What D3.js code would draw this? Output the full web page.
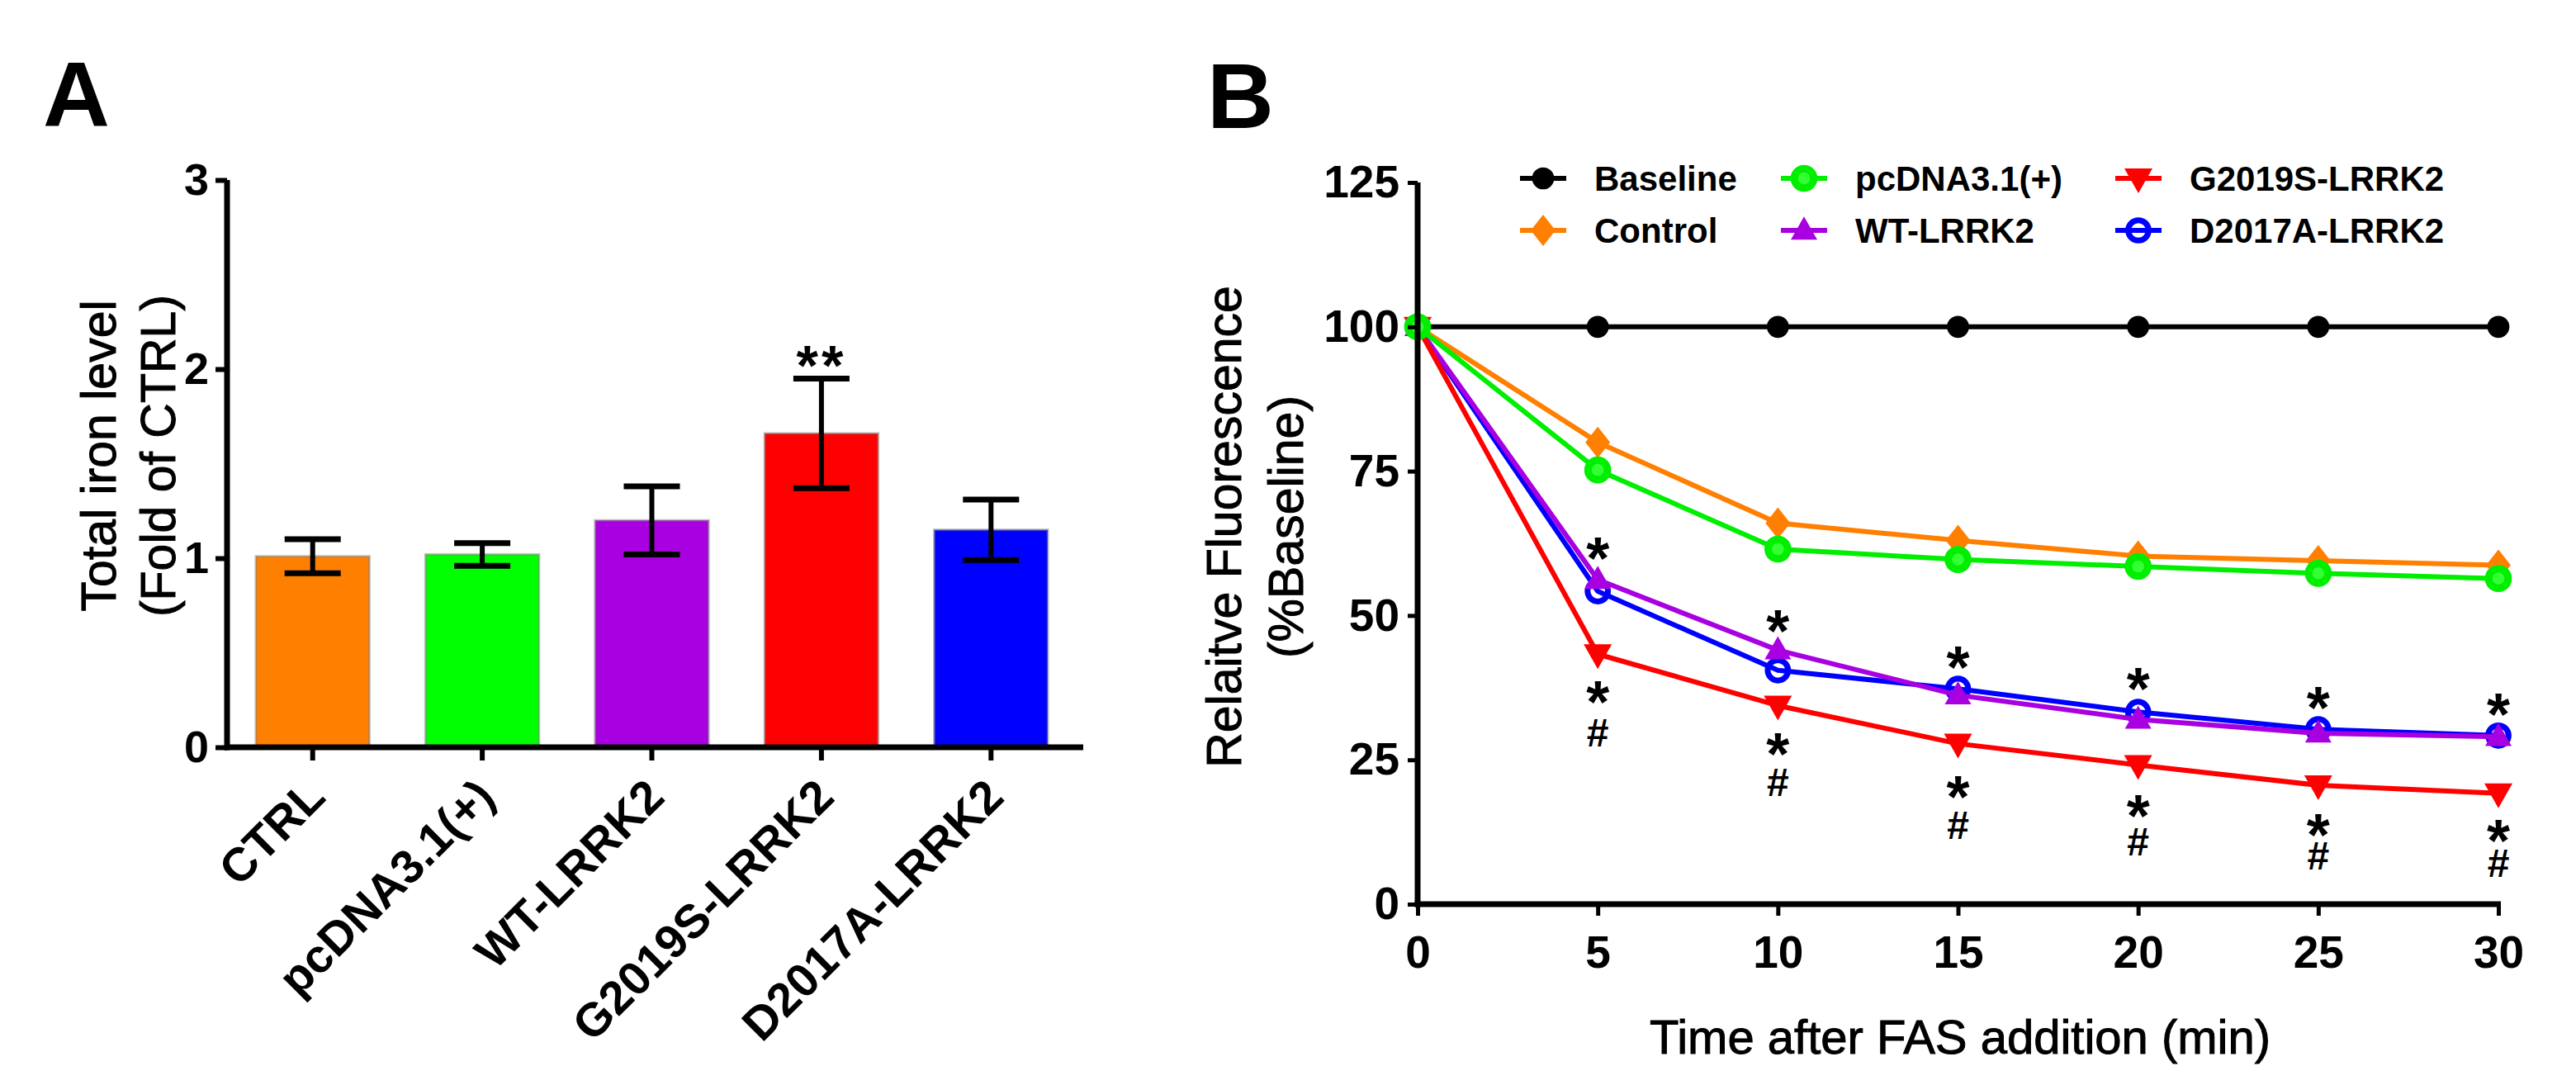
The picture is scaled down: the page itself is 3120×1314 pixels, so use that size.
<!DOCTYPE html>
<html>
<head>
<meta charset="utf-8">
<script src="https://cdnjs.cloudflare.com/ajax/libs/d3/7.8.5/d3.min.js"></script>
<style>
  body { margin: 0; background: #fff; }
  svg text { font-family: "Liberation Sans", Arial, sans-serif; fill: #000; }
  .title { stroke: #000; stroke-width: 1; }
</style>
</head>
<body>
<div id="chart-area"></div>
<script>
// ---- panel A data ----
var barCats   = ["CTRL", "pcDNA3.1(+)", "WT-LRRK2", "G2019S-LRRK2", "D2017A-LRRK2"];
var barMeans  = [1.01, 1.02, 1.20, 1.66, 1.15];
var barErr    = [0.09, 0.06, 0.18, 0.29, 0.16];
var barColors = ["#ff8000", "#00ff00", "#a800e0", "#ff0000", "#0000ff"];
var yTicksA   = [0, 1, 2, 3];
var sigA      = ["", "", "", "**", ""];

// ---- panel B data ----
var times    = [0, 5, 10, 15, 20, 25, 30];
var baseline = [100, 100, 100, 100, 100, 100, 100];
var control  = [100, 80.0, 66.0, 63.0, 60.3, 59.5, 58.7];
var pcdna    = [100, 75.2, 61.5, 59.7, 58.5, 57.3, 56.4];
var wt       = [100, 56.2, 44.0, 36.2, 32.0, 29.6, 29.0];
var g2019s   = [100, 43.3, 34.4, 27.8, 24.1, 20.6, 19.2];
var d2017a   = [100, 54.2, 40.5, 37.3, 33.3, 30.3, 29.2];
var yTicksB  = [0, 25, 50, 75, 100, 125];
var xTicksB  = [0, 5, 10, 15, 20, 25, 30];

// significance marks (y position in data units) at 5..30 min
var sigTimes   = [5, 10, 15, 20, 25, 30];
var starUpper  = [62, 49.5, 43.2, 39.5, 36.2, 35];
var starLower  = [37.2, 28.2, 20.8, 17.4, 14.1, 13.2];
var hashLower  = [29.7, 21.2, 13.8, 10.8, 8.4, 7.2];

var W = 3120, H = 1314;

var svg = d3.select('#chart-area').append('svg')
    .attr('width', W)
    .attr('height', H);

// ================= panel A =================
svg.append('text')
    .attr('x', 52).attr('y', 153)
    .attr('font-size', 112).attr('font-weight', 'bold')
    .text('A');

var yA = d3.scaleLinear().domain([0, 3]).range([905, 218]);
var xA = d3.scaleBand().domain(barCats).range([276, 1303]);

var gA = svg.append('g');

// bars
var bw = xA.bandwidth() * 0.67;
gA.selectAll('rect.bar')
    .data(barCats)
    .enter()
    .append('rect')
        .attr('class', 'bar')
        .attr('x', function(d){ return xA(d) + (xA.bandwidth() - bw) / 2; })
        .attr('y', function(d, i){ return yA(barMeans[i]); })
        .attr('width', bw)
        .attr('height', function(d, i){ return yA(0) - yA(barMeans[i]); })
        .attr('fill', function(d, i){ return barColors[i]; })
        .attr('stroke', 'rgba(120,120,120,0.45)')
        .attr('stroke-width', 3);

// error bars
var capW = 68;
var eb = gA.selectAll('g.err')
    .data(barCats)
    .enter()
    .append('g')
        .attr('class', 'err')
        .attr('transform', function(d){ return 'translate(' + (xA(d) + xA.bandwidth() / 2) + ',0)'; });
eb.append('line')
    .attr('x1', 0).attr('x2', 0)
    .attr('y1', function(d, i){ return yA(barMeans[i] + barErr[i]); })
    .attr('y2', function(d, i){ return yA(barMeans[i] - barErr[i]); })
    .attr('stroke', '#000').attr('stroke-width', 6);
eb.append('line')
    .attr('x1', -capW / 2).attr('x2', capW / 2)
    .attr('y1', function(d, i){ return yA(barMeans[i] + barErr[i]); })
    .attr('y2', function(d, i){ return yA(barMeans[i] + barErr[i]); })
    .attr('stroke', '#000').attr('stroke-width', 7);
eb.append('line')
    .attr('x1', -capW / 2).attr('x2', capW / 2)
    .attr('y1', function(d, i){ return yA(barMeans[i] - barErr[i]); })
    .attr('y2', function(d, i){ return yA(barMeans[i] - barErr[i]); })
    .attr('stroke', '#000').attr('stroke-width', 7);
eb.filter(function(d, i){ return sigA[i] !== ''; })
  .append('text')
    .attr('text-anchor', 'middle')
    .attr('y', function(d){ var i = barCats.indexOf(d); return yA(barMeans[i] + barErr[i]) + 8; })
    .attr('font-size', 68).attr('font-weight', 'bold')
    .attr('letter-spacing', 4)
    .text(function(d){ return sigA[barCats.indexOf(d)]; });

// axes
var axisYA = d3.axisLeft(yA).tickValues(yTicksA).tickFormat(d3.format('d'))
    .tickSize(14).tickSizeOuter(0).tickPadding(8);
var gYA = gA.append('g')
    .attr('transform', 'translate(275,0)')
    .call(axisYA);
gYA.select('.domain').attr('stroke-width', 7).attr('d', 'M0,' + yA(3) + 'V' + (yA(0) + 3.5));
gYA.selectAll('.tick line').attr('stroke-width', 6);
gYA.selectAll('.tick text')
    .attr('font-size', 54).attr('font-weight', 'bold')
    .attr('font-family', '"Liberation Sans", Arial, sans-serif');

var axisXA = d3.axisBottom(xA).tickSize(16).tickSizeOuter(0);
var gXA = gA.append('g')
    .attr('transform', 'translate(0,' + yA(0) + ')')
    .call(axisXA);
gXA.select('.domain').remove();
gXA.append('line')
    .attr('x1', 272).attr('x2', 1312)
    .attr('stroke', '#000').attr('stroke-width', 7);
gXA.selectAll('.tick line').attr('stroke-width', 6);
gXA.selectAll('.tick text')
    .attr('font-size', 57).attr('font-weight', 'bold')
    .attr('font-family', '"Liberation Sans", Arial, sans-serif')
    .attr('text-anchor', 'end')
    .attr('x', 0).attr('y', 0).attr('dy', 0)
    .attr('transform', 'translate(18,63) rotate(-45)');

// y title
var tA = svg.append('g').attr('transform', 'translate(0,552) rotate(-90)');
tA.append('text').attr('class', 'title').attr('x', 0).attr('y', 140)
    .attr('text-anchor', 'middle').attr('font-size', 59)
    .text('Total iron level');
tA.append('text').attr('class', 'title').attr('x', 0).attr('y', 212)
    .attr('text-anchor', 'middle').attr('font-size', 59)
    .text('(Fold of CTRL)');

// ================= panel B =================
svg.append('text')
    .attr('x', 1462).attr('y', 155)
    .attr('font-size', 112).attr('font-weight', 'bold')
    .text('B');

var xB = d3.scaleLinear().domain([0, 30]).range([1717, 3026]);
var yB = d3.scaleLinear().domain([0, 125]).range([1095, 221]);

var gB = svg.append('g');

// custom marker shapes
function diamond(w, h) {
    return { draw: function(ctx) {
        ctx.moveTo(0, -h / 2); ctx.lineTo(w / 2, 0); ctx.lineTo(0, h / 2); ctx.lineTo(-w / 2, 0); ctx.closePath();
    }};
}
function tri(w, h, down) {
    var s = down ? -1 : 1;
    return { draw: function(ctx) {
        ctx.moveTo(0, -s * h * 0.6); ctx.lineTo(w / 2, s * h * 0.4); ctx.lineTo(-w / 2, s * h * 0.4); ctx.closePath();
    }};
}

var series = [
    { name: 'Baseline',     vals: baseline, color: '#000000', sym: d3.symbol().type(d3.symbolCircle).size(560), fill: '#000000', sw: 0 },
    { name: 'Control',      vals: control,  color: '#ff8000', sym: d3.symbol().type(diamond(30, 38)), fill: '#ff8000', sw: 0 },
    { name: 'D2017A-LRRK2', vals: d2017a,   color: '#0000ff', sym: d3.symbol().type(d3.symbolCircle).size(480), fill: 'none', sw: 7 },
    { name: 'WT-LRRK2',     vals: wt,       color: '#a800e0', sym: d3.symbol().type(tri(32, 28, false)), fill: '#a800e0', sw: 0 },
    { name: 'G2019S-LRRK2', vals: g2019s,   color: '#ff0000', sym: d3.symbol().type(tri(34, 30, true)), fill: '#ff0000', sw: 0 },
    { name: 'pcDNA3.1(+)',  vals: pcdna,    color: '#00ee00', sym: d3.symbol().type(d3.symbolCircle).size(440), fill: '#33ff33', sw: 9 }
];

var line = d3.line()
    .x(function(d, i){ return xB(times[i]); })
    .y(function(d){ return yB(d); });

series.forEach(function(s){
    gB.append('path')
        .datum(s.vals)
        .attr('d', line)
        .attr('fill', 'none')
        .attr('stroke', s.color)
        .attr('stroke-width', 6)
        .attr('stroke-linejoin', 'round');
    gB.selectAll(null)
        .data(s.vals)
        .enter()
        .append('path')
            .attr('d', s.sym)
            .attr('transform', function(d, i){ return 'translate(' + xB(times[i]) + ',' + yB(d) + ')'; })
            .attr('fill', s.fill)
            .attr('stroke', s.color)
            .attr('stroke-width', s.sw);
});

// significance marks: * above WT / D2017A, stacked * and # below G2019S
gB.selectAll('text.su')
    .data(starUpper)
    .enter()
    .append('text')
        .attr('class', 'su')
        .attr('text-anchor', 'middle')
        .attr('x', function(d, i){ return xB(sigTimes[i]); })
        .attr('y', function(d){ return yB(d) + 40; })
        .attr('font-size', 72).attr('font-weight', 'bold')
        .text('*');
var low = gB.selectAll('text.sl')
    .data(starLower)
    .enter()
    .append('text')
        .attr('class', 'sl')
        .attr('text-anchor', 'middle')
        .attr('x', function(d, i){ return xB(sigTimes[i]); })
        .attr('y', function(d){ return yB(d) + 40; });
low.append('tspan')
    .attr('font-size', 72).attr('font-weight', 'bold')
    .text('*');
low.append('tspan')
    .attr('x', function(d, i){ return xB(sigTimes[i]); })
    .attr('dy', function(d, i){ return (yB(hashLower[i]) + 17) - (yB(d) + 40); })
    .attr('font-size', 48).attr('font-weight', 'bold')
    .text('#');

// axes
var axisYB = d3.axisLeft(yB).tickValues(yTicksB).tickSize(12).tickSizeOuter(0).tickPadding(10);
var gYB = gB.append('g')
    .attr('transform', 'translate(' + xB(0) + ',0)')
    .call(axisYB);
gYB.select('.domain').attr('stroke-width', 7).attr('d', 'M0,' + yB(125) + 'V' + (yB(0) + 3.5));
gYB.selectAll('.tick line').attr('stroke-width', 5);
gYB.selectAll('.tick text')
    .attr('font-size', 55).attr('font-weight', 'bold')
    .attr('font-family', '"Liberation Sans", Arial, sans-serif');

var axisXB = d3.axisBottom(xB).tickValues(xTicksB).tickSize(14).tickSizeOuter(0).tickPadding(24);
var gXB = gB.append('g')
    .attr('transform', 'translate(0,' + yB(0) + ')')
    .call(axisXB);
gXB.select('.domain').attr('stroke-width', 7).attr('d', 'M' + (xB(0) - 3.5) + ',0H' + (xB(30) + 3));
gXB.selectAll('.tick line').attr('stroke-width', 5);
gXB.selectAll('.tick text')
    .attr('font-size', 55).attr('font-weight', 'bold')
    .attr('font-family', '"Liberation Sans", Arial, sans-serif');

// titles
var tB = svg.append('g').attr('transform', 'translate(0,638) rotate(-90)');
tB.append('text').attr('class', 'title').attr('x', 0).attr('y', 1503)
    .attr('text-anchor', 'middle').attr('font-size', 59)
    .text('Relaitve Fluorescence');
tB.append('text').attr('class', 'title').attr('x', 0).attr('y', 1578)
    .attr('text-anchor', 'middle').attr('font-size', 59)
    .text('(%Baseline)');

svg.append('text')
    .attr('class', 'title')
    .attr('x', 2374).attr('y', 1276)
    .attr('text-anchor', 'middle').attr('font-size', 58)
    .text('Time after FAS addition (min)');

// legend: 3 columns x 2 rows
var legendOrder = ['Baseline', 'Control', 'pcDNA3.1(+)', 'WT-LRRK2', 'G2019S-LRRK2', 'D2017A-LRRK2'];
var legendColX  = [1869, 2185, 2590];
var legendRowY  = [216, 279];
function seriesOf(name) {
    return series.find(function(s){ return s.name === name; });
}
var leg = gB.selectAll('g.leg')
    .data(legendOrder)
    .enter()
    .append('g')
        .attr('class', 'leg')
        .attr('transform', function(d, i){
            return 'translate(' + legendColX[Math.floor(i / 2)] + ',' + legendRowY[i % 2] + ')';
        });
leg.append('line')
    .attr('x1', -28).attr('x2', 28)
    .attr('stroke', function(d){ return seriesOf(d).color; })
    .attr('stroke-width', 6);
leg.append('path')
    .attr('d', function(d){ return seriesOf(d).sym(); })
    .attr('fill', function(d){ return seriesOf(d).fill; })
    .attr('stroke', function(d){ return seriesOf(d).color; })
    .attr('stroke-width', function(d){ return seriesOf(d).sw; });
leg.append('text')
    .attr('x', 62).attr('y', 15)
    .attr('font-size', 42).attr('font-weight', 'bold')
    .text(function(d){ return d; });
</script>
</body>
</html>
